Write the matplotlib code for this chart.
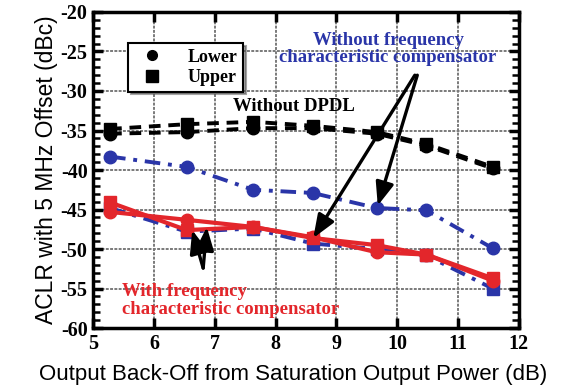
import matplotlib
matplotlib.use("Agg")
import matplotlib.pyplot as plt
from matplotlib.ticker import MultipleLocator
from matplotlib.lines import Line2D

plt.rcParams["axes.unicode_minus"] = False

x = [5.28, 6.54, 7.63, 8.61, 9.66, 10.48, 11.57]
nodpd_lower = [-35.4, -35.2, -34.7, -34.7, -35.4, -36.9, -39.8]
nodpd_upper = [-34.8, -34.2, -33.9, -34.4, -35.2, -36.7, -39.6]
nofc_lower = [-38.3, -39.6, -42.5, -42.9, -44.8, -45.1, -49.9]
nofc_upper = [-44.8, -47.8, -47.4, -49.3, -50.0, -50.8, -55.0]
fc_lower = [-45.3, -46.3, -47.2, -48.5, -50.4, -50.7, -54.0]
fc_upper = [-44.1, -47.6, -47.2, -48.6, -49.5, -50.7, -53.7]

xticks = [5, 6, 7, 8, 9, 10, 11, 12]
yticks = [-20, -25, -30, -35, -40, -45, -50, -55, -60]

serif = ["Liberation Serif", "DejaVu Serif"]
sans = ["Liberation Sans", "DejaVu Sans"]
BLUE = "#2a35a8"
RED = "#e3262b"

fig = plt.figure(figsize=(5.64, 3.86), dpi=100)
ax = fig.add_axes([0.165, 0.150, 0.755, 0.819])

ax.grid(True, color="#7a7a7a", lw=1.4, ls=(0, (1.5, 0.7)))
ax.set_axisbelow(True)

# without DPDL
ax.plot(x, nodpd_lower, color="black", ls=(0, (3, 2)), lw=2.8, marker="o", ms=9)
ax.plot(x, nodpd_upper, color="black", ls=(0, (3, 2)), lw=2.8, marker="s", ms=9)
# without freq compensator
ax.plot(x, nofc_lower, color=BLUE, ls=(0, (4, 2, 1, 2)), lw=2.8, marker="o", ms=9)
ax.plot(x, nofc_upper, color=BLUE, ls=(0, (4, 2, 1, 2)), lw=2.8, marker="s", ms=9)
# with freq compensator
ax.plot(x, fc_lower, color=RED, ls="-", lw=3.0, marker="o", ms=9)
ax.plot(x, fc_upper, color=RED, ls="-", lw=3.0, marker="s", ms=9)

ax.set_xlim(5, 12)
ax.set_ylim(-60, -20)
ax.set_xticks(xticks)
ax.set_yticks(yticks)
ax.yaxis.set_minor_locator(MultipleLocator(1))
ax.tick_params(axis="both", which="major", direction="in", length=7, width=2.5,
               top=True, right=True, pad=4)
ax.tick_params(axis="y", which="minor", direction="in", length=5, width=1.8,
               left=True, right=True)
for lab in ax.get_xticklabels() + ax.get_yticklabels():
    lab.set_family(serif)
    lab.set_fontweight("bold")
    lab.set_fontsize(14.5)
for sp in ax.spines.values():
    sp.set_linewidth(2.5)

ax.set_xlabel("Output Back-Off from Saturation Output Power (dB)", family=sans,
              fontsize=16, labelpad=1)
ax.xaxis.set_label_coords(0.47, -0.115)
ax.set_ylabel("ACLR with 5 MHz Offset (dBc)", family=sans, fontsize=16.5, labelpad=2)

# legend
h = [Line2D([], [], color="black", marker="o", ls="none", ms=7),
     Line2D([], [], color="black", marker="s", ls="none", ms=9)]
leg = ax.legend(h, ["Lower", "Upper"], loc="upper left", bbox_to_anchor=(0.062, 0.93),
                prop={"family": serif, "weight": "bold", "size": 13}, frameon=True,
                fancybox=False, shadow=True, edgecolor="black", handletextpad=1.0,
                borderpad=0.3, labelspacing=0.2, framealpha=1)
leg.get_frame().set_linewidth(1.5)

ax.text(8.30, -31.9, "Without DPDL", family=serif, fontweight="bold", fontsize=13.5,
        ha="center", va="center", color="black")
ax.text(9.85, -24.7, "Without frequency\ncharacteristic compensator", family=serif,
        fontweight="bold", fontsize=13.5, ha="center", va="center", color=BLUE,
        linespacing=1.05)
ax.text(5.48, -56.5, "With frequency\ncharacteristic compensator", family=serif,
        fontweight="bold", fontsize=13.5, ha="left", va="center", color=RED,
        linespacing=1.05)

ap = dict(arrowstyle="-|>,head_length=1.4,head_width=0.55", color="black", lw=2.4,
          shrinkA=0, shrinkB=0)
ax.annotate("", xy=(8.62, -48.6), xytext=(10.29, -28.0), arrowprops=ap)
ax.annotate("", xy=(9.68, -44.5), xytext=(10.33, -28.0), arrowprops=ap)
ax.annotate("", xy=(6.63, -47.6), xytext=(6.81, -52.4), arrowprops=ap)
ax.annotate("", xy=(6.87, -47.2), xytext=(6.81, -52.4), arrowprops=ap)

fig.savefig("out.png", dpi=100)
